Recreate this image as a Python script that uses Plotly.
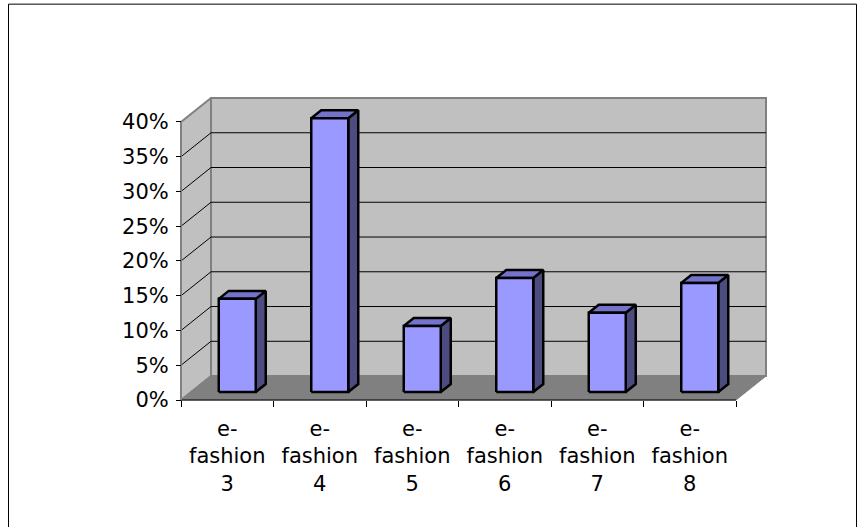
import plotly.graph_objects as go

# Survey shares per e-fashion item (percent)
categories = ["e-fashion 3", "e-fashion 4", "e-fashion 5", "e-fashion 6", "e-fashion 7", "e-fashion 8"]
shares = [13.4, 39.4, 9.5, 16.4, 11.4, 15.7]
y_tick_values = [0, 5, 10, 15, 20, 25, 30, 35, 40]
y_tick_labels = [f"{v}%" for v in y_tick_values]

# Figure / projection setup (oblique projection of a 3-D column chart)
W, H = 863, 527
PX_CAT = 92.5          # pixels per category on the front axis
PX_PCT = 6.9625        # pixels per percent
DEPTH_PX = (30, 24)    # screen offset of the back wall relative to the front
DX = DEPTH_PX[0] / PX_CAT
DY = DEPTH_PX[1] / PX_PCT
Y_TOP = max(y_tick_values)
N = len(categories)
X_LEFT, X_RIGHT = -0.5, N - 0.5
BAR_W = 0.4
D_FRONT, D_BACK = 1 / 3, 2 / 3
PAD = 4  # px of breathing room so edge lines are not clipped

ORIGIN = (181, 400)
plot_left = ORIGIN[0] - PAD
plot_right = ORIGIN[0] + (X_RIGHT - X_LEFT) * PX_CAT + DEPTH_PX[0] + PAD
plot_bottom = ORIGIN[1] + PAD
plot_top = ORIGIN[1] - Y_TOP * PX_PCT - DEPTH_PX[1] - PAD
plot_w = plot_right - plot_left
plot_h = plot_bottom - plot_top

WALL = "#C0C0C0"
FLOOR = "#808080"
EDGE = "#808080"
FRONT = "#9999FF"
TOP = "#7373CC"
SIDE = "#4C4C80"
FONT = "DejaVu Sans, Arial, sans-serif"


def proj(x, y, d):
    return x + d * DX, y + d * DY


def polygon(pts, fill=None, color="black", width=1):
    xs, ys = zip(*(proj(*p) for p in pts))
    xs, ys = list(xs), list(ys)
    if fill:
        xs.append(xs[0])
        ys.append(ys[0])
    return go.Scatter(
        x=xs, y=ys, mode="lines",
        fill="toself" if fill else None,
        fillcolor=fill,
        line=dict(color=color, width=width),
        hoverinfo="skip", showlegend=False,
    )


fig = go.Figure()

# Walls and floor
fig.add_trace(polygon([(X_LEFT, 0, 0), (X_LEFT, 0, 1), (X_LEFT, Y_TOP, 1), (X_LEFT, Y_TOP, 0)],
                      fill=WALL, color=EDGE, width=2))
fig.add_trace(polygon([(X_LEFT, 0, 1), (X_RIGHT, 0, 1), (X_RIGHT, Y_TOP, 1), (X_LEFT, Y_TOP, 1)],
                      fill=WALL, color=EDGE, width=2))
fig.add_trace(polygon([(X_LEFT, 0, 0), (X_LEFT, 0, 1), (X_RIGHT, 0, 1), (X_RIGHT, 0, 0)],
                      fill=FLOOR, color=EDGE, width=1))

# Gridlines along the side wall and the back wall
for v in y_tick_values[1:-1]:
    fig.add_trace(polygon([(X_LEFT, v, 0), (X_LEFT, v, 1), (X_RIGHT, v, 1)], color="black", width=1))

# Front axis lines
fig.add_trace(polygon([(X_LEFT, 0, 0), (X_RIGHT, 0, 0)], color="black", width=1))
fig.add_trace(polygon([(X_LEFT, 0, 0), (X_LEFT, Y_TOP, 0)], color="#808080", width=2))

# Columns
for i, v in enumerate(shares):
    x0, x1 = i - BAR_W / 2, i + BAR_W / 2
    fig.add_trace(polygon([(x1, 0, D_FRONT), (x1, 0, D_BACK), (x1, v, D_BACK), (x1, v, D_FRONT)],
                          fill=SIDE, color="black", width=2.5))
    fig.add_trace(polygon([(x0, v, D_FRONT), (x1, v, D_FRONT), (x1, v, D_BACK), (x0, v, D_BACK)],
                          fill=TOP, color="black", width=2.5))
    fig.add_trace(polygon([(x0, 0, D_FRONT), (x1, 0, D_FRONT), (x1, v, D_FRONT), (x0, v, D_FRONT)],
                          fill=FRONT, color="black", width=2.5))

x_labels = ["e-<br>" + c[2:].replace(" ", "<br>") for c in categories]

fig.update_layout(
    width=W, height=H,
    margin=dict(l=plot_left, r=W - plot_right, t=plot_top, b=H - plot_bottom, pad=0),
    paper_bgcolor="white", plot_bgcolor="white",
    font=dict(family=FONT, size=21, color="black"),
    showlegend=False,
    hovermode=False,
    xaxis=dict(
        range=[X_LEFT - PAD / PX_CAT, X_RIGHT + DX + PAD / PX_CAT],
        anchor="free", position=PAD / plot_h,
        tickmode="array", tickvals=list(range(N)), ticktext=x_labels,
        ticks="", showgrid=False, zeroline=False, showline=False,
        minor=dict(tickmode="linear", tick0=X_LEFT, dtick=1, ticks="outside",
                   ticklen=6, tickwidth=1, tickcolor="black", showgrid=False),
        ticklabelstandoff=14,
        fixedrange=True,
    ),
    yaxis=dict(
        range=[-PAD / PX_PCT, Y_TOP + DY + PAD / PX_PCT],
        anchor="free", position=PAD / plot_w,
        tickmode="array", tickvals=y_tick_values, ticktext=y_tick_labels,
        ticks="outside", ticklen=5, tickwidth=1, tickcolor="black",
        showgrid=False, zeroline=False, showline=False,
        ticklabelstandoff=3,
        fixedrange=True,
    ),
    shapes=[dict(
        type="rect", xref="paper", yref="paper",
        x0=(8.5 - plot_left) / plot_w, x1=(856.5 - plot_left) / plot_w,
        y0=(plot_bottom - 540) / plot_h, y1=(plot_bottom - 3.5) / plot_h,
        line=dict(color="black", width=1), fillcolor="rgba(0,0,0,0)", layer="below",
    )],
)

fig.write_html("out.html")
